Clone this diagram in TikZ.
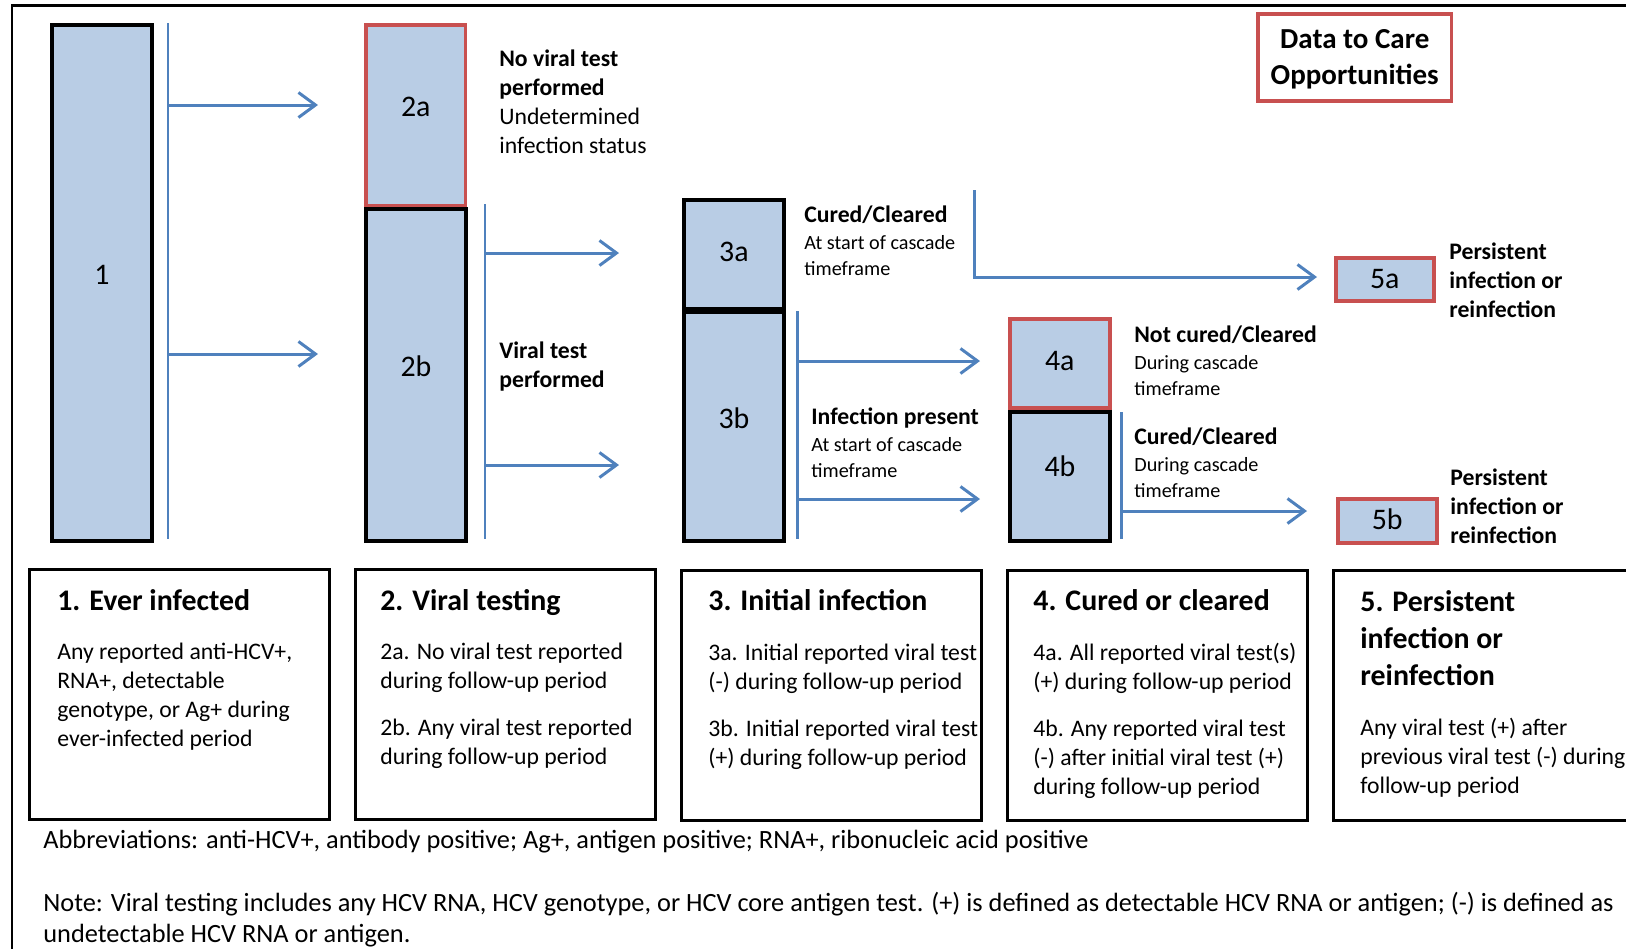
\documentclass[tikz,border=0pt]{standalone}
\usepackage{fontspec}
\setmainfont{Carlito}
\usepackage{tikz}
\usetikzlibrary{positioning, arrows.meta}
\definecolor{barblue}{RGB}{185,205,229}
\definecolor{flowblue}{RGB}{79,129,189}
\definecolor{oppred}{RGB}{200,80,80}
\newcommand{\subtext}{\fontsize{11.5}{15}\selectfont}

\begin{document}
\begin{tikzpicture}[x=0.02cm, y=-0.02cm,
        bar/.style={draw=black, line width=2.2pt, fill=barblue, anchor=north west, inner sep=0pt,
            minimum width=2cm},
        oppbar/.style={bar, draw=oppred, line width=2pt},
        barnum/.style={inner sep=0pt, font=\fontsize{17}{20}\selectfont},
        flow/.style={draw=flowblue, line width=1.7pt},
        flowarrow/.style={flow, -{Straight Barb[length=0.34cm, width=0.5cm]}},
        sidetext/.style={anchor=west, align=left, inner sep=0pt, font=\fontsize{13.5}{16.5}\selectfont},
        sidesmall/.style={sidetext, font=\fontsize{13.5}{15}\selectfont},
        stagebox/.style={draw=black, line width=1.5pt, anchor=north west, minimum width=6cm, minimum height=5cm},
        stagetitle/.style={anchor=base west, align=left, inner sep=0pt, font=\bfseries\fontsize{17}{21}\selectfont},
        stagetext/.style={anchor=west, align=left, inner sep=0pt, font=\fontsize{13.5}{16.5}\selectfont},
        footnote/.style={anchor=west, align=left, inner sep=0pt, font=\fontsize{15}{17.6}\selectfont}]
        \useasboundingbox (0,0) rectangle (1626,948);
        \clip (0,0) rectangle (1626,948);
        % Outer frame
        \draw[line width=1.7pt] (12,5) rectangle (1700,1000);
        % Bars
        \node[bar, minimum height=10.32cm] (s1) at (50,23) {};
        \node[oppbar, minimum height=3.62cm] (s2a) at (364,23) {};
        \node[bar, minimum height=6.64cm] (s2b) at (364,207) {};
        \node[bar, minimum height=2.18cm] (s3a) at (682,198) {};
        \node[bar, minimum height=4.58cm] (s3b) at (682,310) {};
        \node[oppbar, minimum height=1.78cm] (s4a) at (1008,317) {};
        \node[bar, minimum height=2.58cm] (s4b) at (1008,410) {};
        \node[oppbar, minimum width=1.96cm, minimum height=0.86cm] (s5a) at (1334,256) {};
        \node[oppbar, minimum width=1.98cm, minimum height=0.88cm] (s5b) at (1336,497) {};
        \node[barnum] (n1) at ([yshift=4.7pt]s1.center) {1};
        \node[barnum] (n2a) at ([yshift=4.7pt]s2a.center) {2a};
        \node[barnum] (n2b) at ([yshift=4.7pt]s2b.center) {2b};
        \node[barnum] (n3a) at ([yshift=1.2pt]s3a.center) {3a};
        \node[barnum] (n3b) at ([yshift=4.7pt]s3b.center) {3b};
        \node[barnum] (n4a) at ([yshift=1.2pt]s4a.center) {4a};
        \node[barnum] (n4b) at ([yshift=5.9pt]s4b.center) {4b};
        \node[barnum] (n5a) at (s5a.center) {5a};
        \node[barnum] (n5b) at ([yshift=0.6pt]s5b.center) {5b};
        % Blue lines and arrows
        \coordinate (l1t) at (168,23);
        \coordinate (l1b) at (168,539);
        \coordinate (to2a) at (318,105);
        \coordinate (to2b) at (318,354);
        \draw[flow] (l1t) -- (l1b);
        \draw[flowarrow] (l1t |- to2a) -- (to2a);
        \draw[flowarrow] (l1t |- to2b) -- (to2b);
        \coordinate (l2t) at (485,204);
        \coordinate (l2b) at (485,539);
        \coordinate (to3a) at (619,253);
        \coordinate (to3b) at (619,465);
        \draw[flow] (l2t) -- (l2b);
        \draw[flowarrow] (l2t |- to3a) -- (to3a);
        \draw[flowarrow] (l2t |- to3b) -- (to3b);
        \coordinate (l3at) at (974,190);
        \coordinate (to5a) at (1317,277);
        \draw[flowarrow] (l3at) |- (to5a);
        \coordinate (l3bt) at (797,311);
        \coordinate (l3bb) at (797,539);
        \coordinate (to4a) at (980,361);
        \coordinate (to4b) at (980,499);
        \draw[flow] (l3bt) -- (l3bb);
        \draw[flowarrow] (l3bt |- to4a) -- (to4a);
        \draw[flowarrow] (l3bt |- to4b) -- (to4b);
        \coordinate (l4t) at (1121,412);
        \coordinate (l4b) at (1121,539);
        \coordinate (to5b) at (1307,511);
        \draw[flow] (l4t) -- (l4b);
        \draw[flowarrow] (l4t |- to5b) -- (to5b);
        % Labels next to bars
        \node[sidetext] (t2a) at (499,102) {\textbf{No viral test}\\\textbf{performed}\\Undetermined\\infection status};
        \node[sidetext, font=\bfseries\fontsize{13.5}{16.5}\selectfont] (t2b) at (499,367) {Viral test\\performed};
        \node[sidesmall] (t3a) at (804,241) {\textbf{Cured/Cleared}\\\subtext At start of cascade\\\subtext timeframe};
        \node[sidesmall] (t3b) at (811,443) {\textbf{Infection present}\\\subtext At start of cascade\\\subtext timeframe};
        \node[sidesmall] (t4a) at (1134,361) {\textbf{Not cured/Cleared}\\\subtext During cascade\\\subtext timeframe};
        \node[sidesmall] (t4b) at (1134,463) {\textbf{Cured/Cleared}\\\subtext During cascade\\\subtext timeframe};
        \node[sidetext, font=\bfseries\fontsize{13.5}{16.5}\selectfont] (t5a) at (1449,280) {Persistent\\infection or\\reinfection};
        \node[sidetext, font=\bfseries\fontsize{13.5}{16.5}\selectfont] (t5b) at (1450,506) {Persistent\\infection or\\reinfection};
        \node[draw=oppred, line width=2pt, anchor=north west, minimum width=3.88cm, minimum height=1.74cm] (d2c) at (1256,12) {};
        \node[align=center, inner sep=0pt, font=\bfseries\fontsize{16.5}{20.5}\selectfont] (d2ctext) at ([yshift=-1.2pt]d2c.center) {Data to Care\\Opportunities};
        % Stage descriptions
        \node[stagebox] (c1) at (28,568) {};
        \node[stagebox] (c2) at (354,568) {};
        \node[stagebox] (c3) at (680,569) {};
        \node[stagebox] (c4) at (1006,569) {};
        \node[stagebox] (c5) at (1332,569) {};
        \node[stagetitle] (c1t) at (57,610) {1. Ever infected};
        \node[stagetitle] (c2t) at (380,610) {2. Viral testing};
        \node[stagetitle] (c3t) at (708,610) {3. Initial infection};
        \node[stagetitle] (c4t) at (1033,610) {4. Cured or cleared};
        \node[stagetitle, anchor=west] (c5t) at (1360,638) {5. Persistent\\infection or\\reinfection};
        \node[stagetext] (c1b) at (57,697) {Any reported anti-HCV+,\\RNA+, detectable\\genotype, or Ag+ during\\ever-infected period};
        \node[stagetext] (c2b) at (380,706) {2a. No viral test reported\\during follow-up period\\[10pt]2b. Any viral test reported\\during follow-up period};
        \node[stagetext] (c3b) at (708,707) {3a. Initial reported viral test\\(-) during follow-up period\\[10pt]3b. Initial reported viral test\\(+) during follow-up period};
        \node[stagetext] (c4b) at (1033,721) {4a. All reported viral test(s)\\(+) during follow-up period\\[10pt]4b. Any reported viral test\\(-) after initial viral test (+)\\during follow-up period};
        \node[stagetext] (c5b) at (1360,758) {Any viral test (+) after\\previous viral test (-) during\\follow-up period};
        % Footnotes
        \node[footnote] (abbr) at (43,842) {Abbreviations: anti-HCV+, antibody positive; Ag+, antigen positive; RNA+, ribonucleic acid positive};
        \node[footnote] (note) at (43,920) {Note: Viral testing includes any HCV RNA, HCV genotype, or HCV core antigen test. (+) is defined as detectable HCV RNA or antigen; (-) is defined as\\undetectable HCV RNA or antigen.};
    \end{tikzpicture}
\end{document}
